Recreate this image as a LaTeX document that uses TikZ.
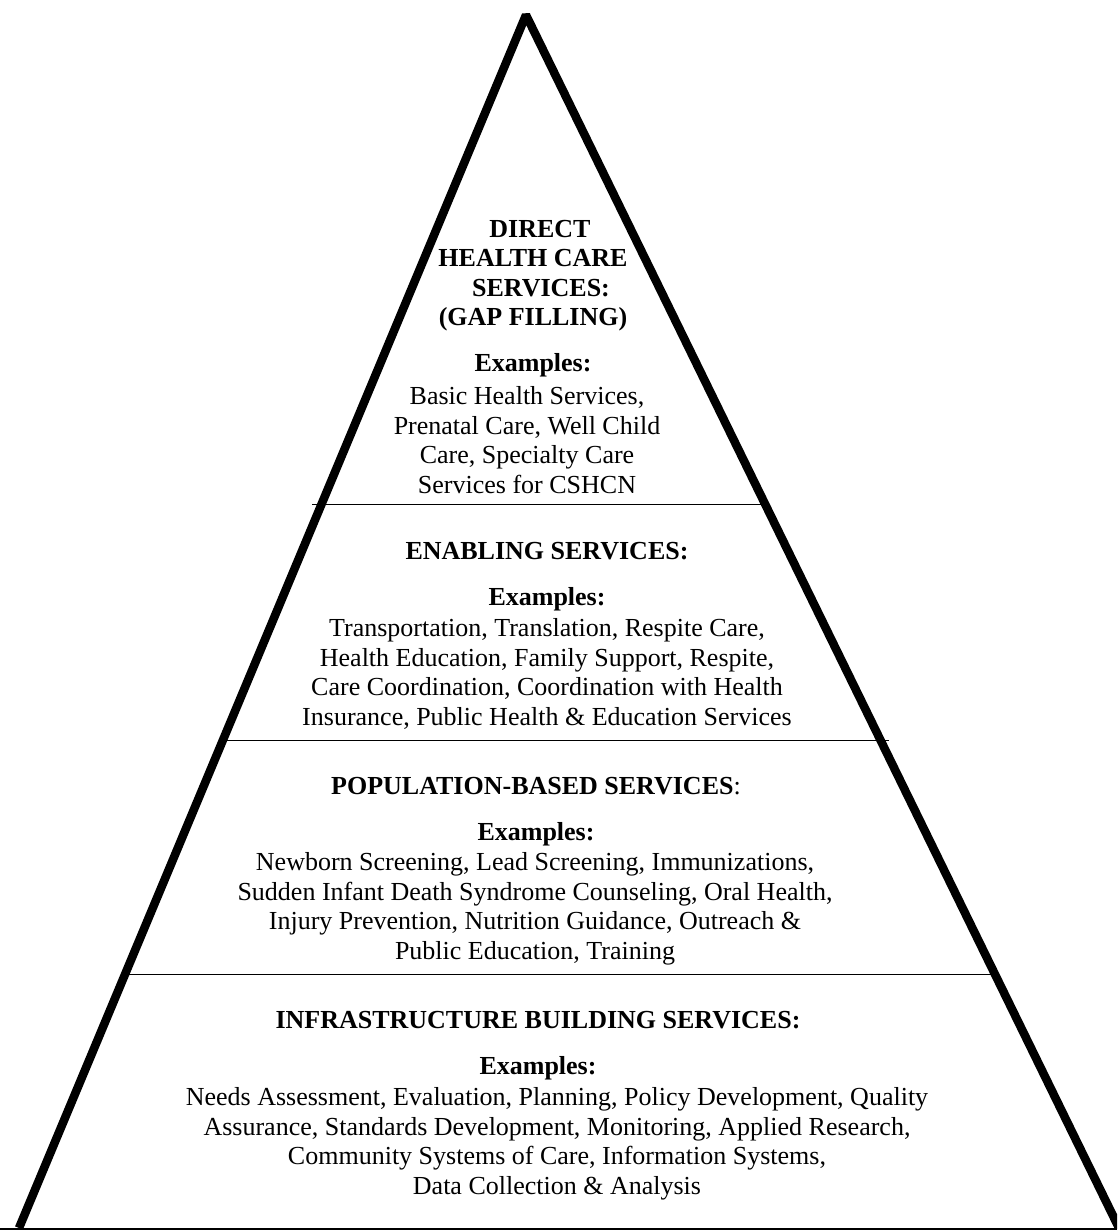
\documentclass[tikz,border=0pt]{standalone}
\usepackage{fontspec}
\setmainfont{Liberation Serif}
\usetikzlibrary{calc}
\tikzset{
  side/.style={line width=8.5pt, line join=bevel},
  divider/.style={line width=1.5pt},
  head/.style={font=\fontsize{26}{29.5}\selectfont\bfseries, align=center, inner sep=0pt, anchor=north},
  body/.style={font=\fontsize{26}{29.5}\selectfont, align=center, inner sep=0pt, anchor=north},
}

\begin{document}
\begin{tikzpicture}[x=1pt,y=-1pt]
\clip (0,0) rectangle (1117,1230);
% Corners of the pyramid
\coordinate (T) at (526,15);
\coordinate (L) at (19,1228);
\coordinate (R) at (1119,1228);
\coordinate (B0) at (0,1228.5);
\coordinate (B1) at (1117,1228.5);

% Ends of the level lines
\coordinate (d1l) at (312,504.5);
\coordinate (d1r) at (762,504.5);
\coordinate (d2l) at (225,740.5);
\coordinate (d2r) at (889,740.5);
\coordinate (d3l) at (124,974.5);
\coordinate (d3r) at (995,974.5);

\draw[side] (L) -- (T) -- (R);
\draw[line width=2pt] (B0) -- (B1);
\draw[divider] (d1l) -- (d1r);
\draw[divider] (d2l) -- (d2r);
\draw[divider] (d3l) -- (d3r);

% Top level
\node[head] (dirHead) at (533,220) {\hspace*{14pt}DIRECT\\HEALTH CARE\hspace*{24pt}\\\hspace*{16pt}SERVICES:\\(GAP FILLING)\\[16.5pt]Examples:};
\node[body] (dirBody) at (527,386.5) {Basic Health Services,\\Prenatal Care, Well Child\\Care, Specialty Care\\Services for CSHCN};

% Second level
\node[head] (enHead) at (547,542) {ENABLING SERVICES:\\[16.5pt]Examples:};
\node[body] (enBody) at (547,618.5) {Transportation, Translation, Respite Care,\\Health Education, Family Support, Respite,\\Care Coordination, Coordination with Health\\Insurance, Public Health \& Education Services};

% Third level
\node[head] (popHead) at (536,777) {POPULATION-BASED SERVICES\textmd{:}\\[16.5pt]Examples:};
\node[body] (popBody) at (535,852.5) {Newborn Screening, Lead Screening, Immunizations,\\Sudden Infant Death Syndrome Counseling, Oral Health,\\Injury Prevention, Nutrition Guidance, Outreach \&\\Public Education, Training};

% Base level
\node[head] (infHead) at (538,1011) {INFRASTRUCTURE BUILDING SERVICES:\\[16.5pt]Examples:};
\node[body] (infBody) at (557,1087.5) {Needs Assessment, Evaluation, Planning, Policy Development, Quality\\Assurance, Standards Development, Monitoring, Applied Research,\\Community Systems of Care, Information Systems,\\Data Collection \& Analysis};
\end{tikzpicture}
\end{document}
